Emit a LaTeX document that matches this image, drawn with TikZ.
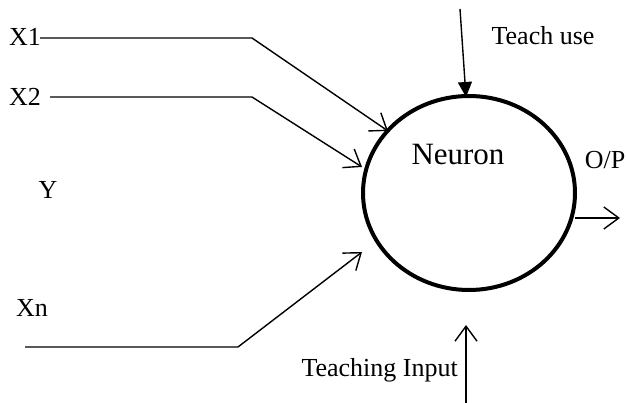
\documentclass[tikz,border=0pt]{standalone}
\usepackage{fontspec}
\setmainfont{Liberation Serif}
\usetikzlibrary{arrows.meta,shapes.geometric}
\begin{document}
\begin{tikzpicture}[x=1pt,y=-1pt,
  lbl/.style={inner sep=0pt,font=\fontsize{26}{30}\selectfont},
  wire/.style={line width=1.4pt},
  openarr/.style={wire,-{Straight Barb[length=15pt,width=22pt,line width=1.4pt]}},
  fillarr/.style={wire,-{Triangle[length=15pt,width=14pt]}}]
\useasboundingbox (0,0) rectangle (627,403);
% neuron
\node[ellipse,draw,line width=4pt,minimum width=212pt,minimum height=194pt,inner sep=0pt] (neuron) at (469,193) {};
\node[lbl,font=\fontsize{31}{36}\selectfont] (ntext) at (458,155) {Neuron};
% labels
\node[lbl,anchor=west] (x1) at (9,37) {X1};
\node[lbl,anchor=west] (x2) at (9,97) {X2};
\node[lbl] (y) at (48,190) {Y};
\node[lbl] (xn) at (32,308) {Xn};
\node[lbl] (teach) at (543,36) {Teach use};
\node[lbl] (op) at (605,160) {O/P};
\node[lbl,anchor=east] (tin) at (458,370) {Teaching Input};
% coordinates
\coordinate (x1s) at (40,38);
\coordinate (x1b) at (252,38);
\coordinate (x1e) at (388,131);
\coordinate (x2s) at (50,97);
\coordinate (x2b) at (252,97);
\coordinate (x2e) at (362,167);
\coordinate (xns) at (25,347);
\coordinate (xnb) at (238,347);
\coordinate (xne) at (362,252);
\coordinate (tus) at (460,9);
\coordinate (tue) at (466,97);
\coordinate (ops) at (575,218);
\coordinate (ope) at (620,218);
\coordinate (tis) at (466,403);
\coordinate (tie) at (466,325);
% connectors
\draw[openarr] (x1s) -- (x1b) -- (x1e);
\draw[openarr] (x2s) -- (x2b) -- (x2e);
\draw[openarr] (xns) -- (xnb) -- (xne);
\draw[fillarr] (tus) -- (tue);
\draw[openarr] (ops) -- (ope);
\draw[openarr] (tis) -- (tie);
\end{tikzpicture}
\end{document}
